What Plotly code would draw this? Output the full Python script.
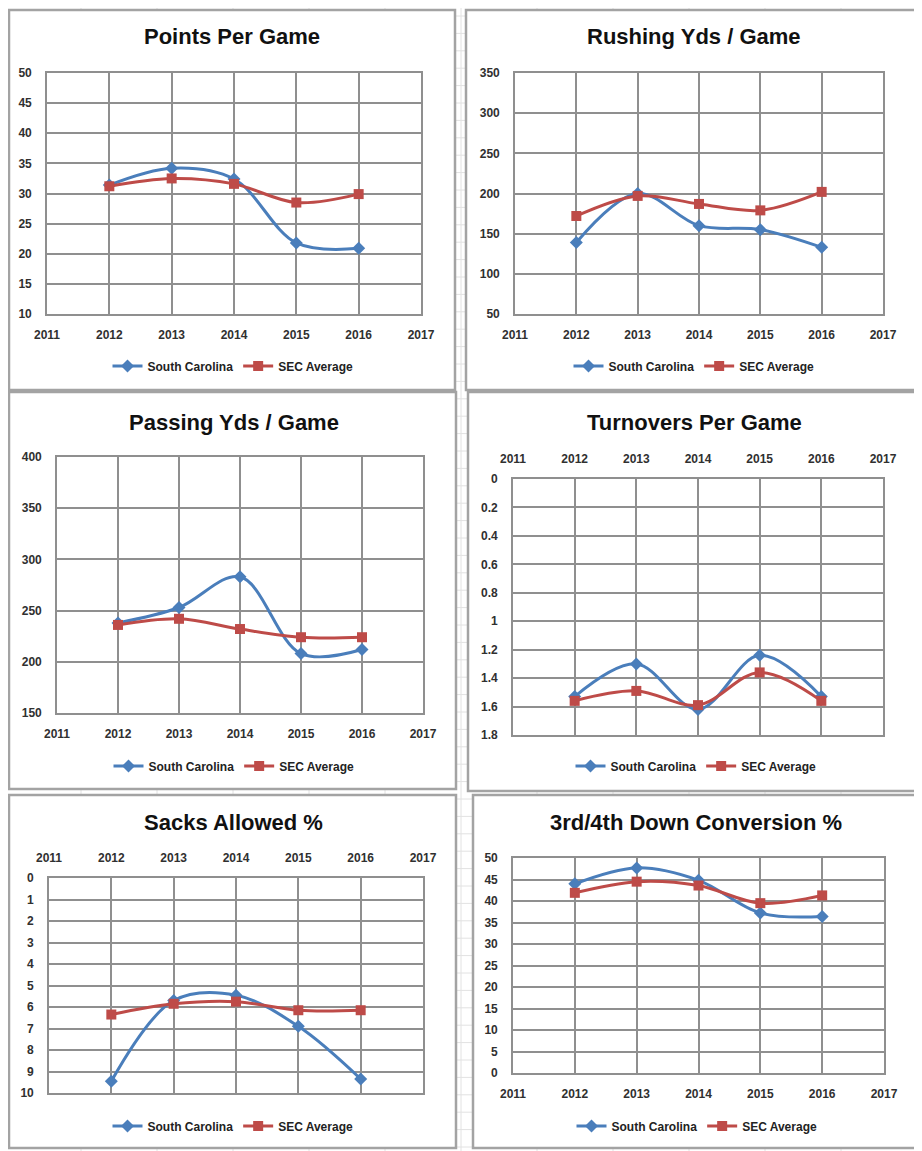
import plotly.graph_objects as go

W, H = 922, 1151
OFF = 8  # page body margin compensation

years = [2012, 2013, 2014, 2015, 2016]

ppg_sc = [31.4, 34.2, 32.4, 21.8, 20.9]
ppg_sec = [31.2, 32.5, 31.6, 28.5, 29.9]

rush_sc = [139, 200, 160, 155, 133]
rush_sec = [172, 197, 187, 179, 202]

pass_sc = [238, 253, 283, 208, 212]
pass_sec = [236, 242, 232, 224, 224]

to_sc = [1.53, 1.30, 1.62, 1.24, 1.53]
to_sec = [1.56, 1.49, 1.59, 1.36, 1.56]

sack_sc = [9.45, 5.7, 5.45, 6.9, 9.35]
sack_sec = [6.35, 5.85, 5.75, 6.15, 6.15]

conv_sc = [44.0, 47.7, 44.8, 37.2, 36.4]
conv_sec = [41.9, 44.5, 43.6, 39.5, 41.3]

titles = ["Points Per Game", "Rushing Yds / Game", "Passing Yds / Game",
          "Turnovers Per Game", "Sacks Allowed %", "3rd/4th Down Conversion %"]
series_names = ["South Carolina", "SEC Average"]
x_ticks = [2011, 2012, 2013, 2014, 2015, 2016, 2017]

to_ticks = [0, 0.2, 0.4, 0.6, 0.8, 1, 1.2, 1.4, 1.6, 1.8]
to_ticktext = ["0", "0.2", "0.4", "0.6", "0.8", "1", "1.2", "1.4", "1.6", "1.8"]

BLUE = "#4A7EBB"
RED = "#BE4B48"
GRID = "#8f8f8f"
TICKFONT = dict(family="Liberation Sans, Arial, sans-serif", size=12, color="#303030", weight="bold")
TITLEFONT = dict(family="Liberation Sans Narrow, Arial Narrow, Liberation Sans, sans-serif", size=22, color="#111111", weight="bold")
LEGFONT = dict(family="Liberation Sans Narrow, Arial Narrow, Liberation Sans, sans-serif", size=12, color="#222222", weight="bold")

# panel definitions (pixel geometry in screenshot coordinates)
panels = [
    dict(data=(ppg_sc, ppg_sec), plot=(47, 421, 73, 314), yrange=[10, 50], dtick=5, xtop=False,
         box=(9, 455, 10, 390), title=(232, 37), leg=(233, 366)),
    dict(data=(rush_sc, rush_sec), plot=(515, 883, 73, 314), yrange=[50, 350], dtick=50, xtop=False,
         box=(466, 918, 10, 390), title=(694, 37), leg=(694, 366)),
    dict(data=(pass_sc, pass_sec), plot=(57, 423, 457, 713), yrange=[150, 400], dtick=50, xtop=False,
         box=(9, 456, 392, 789), title=(234, 422), leg=(234, 766)),
    dict(data=(to_sc, to_sec), plot=(513, 883, 479, 735), yrange=[1.8, 0], dtick=0.2, xtop=True,
         box=(468, 918, 392, 791), title=(694, 422), leg=(696, 766)),
    dict(data=(sack_sc, sack_sec), plot=(49, 423, 878, 1093), yrange=[10, 0], dtick=1, xtop=True,
         box=(9, 456, 795, 1148), title=(233, 822), leg=(233, 1126)),
    dict(data=(conv_sc, conv_sec), plot=(513, 884, 858, 1073), yrange=[0, 50], dtick=5, xtop=False,
         box=(473, 918, 795, 1148), title=(696, 822), leg=(697, 1126)),
]

def px(x):
    return (x - OFF) / W

def py(y):
    return 1 - (y - OFF) / H

fig = go.Figure()
shapes = []
annotations = []

# spreadsheet background grid
k = 0
while 5 + 76 * k < W + OFF:
    xv = 5 + 76 * k
    if xv >= OFF:
        shapes.append(dict(type="line", xref="paper", yref="paper", x0=px(xv), x1=px(xv), y0=0, y1=1,
                           line=dict(color="#e2e2e2", width=1), layer="below"))
    k += 1
k = 0
while 16 + 17.4 * k < H + OFF:
    yv = 16 + 17.4 * k
    if yv >= OFF:
        shapes.append(dict(type="line", xref="paper", yref="paper", x0=0, x1=1, y0=py(yv), y1=py(yv),
                           line=dict(color="#e2e2e2", width=1), layer="below"))
    k += 1

for i, p in enumerate(panels):
    n = "" if i == 0 else str(i + 1)
    xa, ya = "x" + n, "y" + n
    leg = "legend" if i == 0 else "legend" + str(i + 1)
    sc, sec = p["data"]
    fig.add_trace(go.Scatter(x=years, y=sc, name=series_names[0], mode="lines+markers",
                             line=dict(color=BLUE, width=3, shape="spline"),
                             marker=dict(symbol="diamond", size=10, color=BLUE),
                             xaxis=xa, yaxis=ya, legend=leg))
    fig.add_trace(go.Scatter(x=years, y=sec, name=series_names[1], mode="lines+markers",
                             line=dict(color=RED, width=3, shape="spline"),
                             marker=dict(symbol="square", size=10, color=RED),
                             xaxis=xa, yaxis=ya, legend=leg))
    l, r, t, b = p["plot"]
    xaxis = dict(domain=[px(l), px(r)], range=[2011, 2017], tickvals=x_ticks,
                 showgrid=True, gridcolor=GRID, gridwidth=1.6, zeroline=False,
                 showline=True, linecolor=GRID, linewidth=1.6, mirror=True,
                 ticks="", tickfont=TICKFONT, side="top" if p["xtop"] else "bottom",
                 ticklabelstandoff=9, automargin=False,
                 anchor=ya, fixedrange=True)
    yaxis = dict(domain=[py(b), py(t)], range=p["yrange"], dtick=p["dtick"],
                 showgrid=True, gridcolor=GRID, gridwidth=1.6, zeroline=False,
                 showline=True, linecolor=GRID, linewidth=1.6, mirror=True,
                 ticks="", tickfont=TICKFONT, ticklabelstandoff=11, automargin=False,
                 anchor=xa, fixedrange=True)
    if i == 3:
        yaxis["tickvals"] = to_ticks
        yaxis["ticktext"] = to_ticktext
        yaxis.pop("dtick")
    fig.layout["xaxis" + n] = xaxis
    fig.layout["yaxis" + n] = yaxis

    bl, br, bt, bb = p["box"]
    shapes.append(dict(type="rect", xref="paper", yref="paper", x0=px(bl), x1=px(br), y0=py(bb), y1=py(bt),
                       line=dict(color="#a3a3a3", width=2.5), fillcolor="white", layer="below"))
    tx, ty = p["title"]
    annotations.append(dict(text=titles[i], x=px(tx), y=py(ty), xref="paper", yref="paper",
                            xanchor="center", yanchor="middle", showarrow=False, font=TITLEFONT))
    lx, ly = p["leg"]
    fig.layout[leg] = dict(x=px(lx), y=py(ly), xanchor="center", yanchor="middle",
                           orientation="h", font=LEGFONT, bgcolor="rgba(0,0,0,0)",
                           itemwidth=30, tracegroupgap=0)

fig.update_layout(width=W, height=H, margin=dict(l=0, r=0, t=0, b=0, autoexpand=False),
                  paper_bgcolor="white", plot_bgcolor="white",
                  shapes=shapes, annotations=annotations, showlegend=True)

fig.write_html("out.html")
